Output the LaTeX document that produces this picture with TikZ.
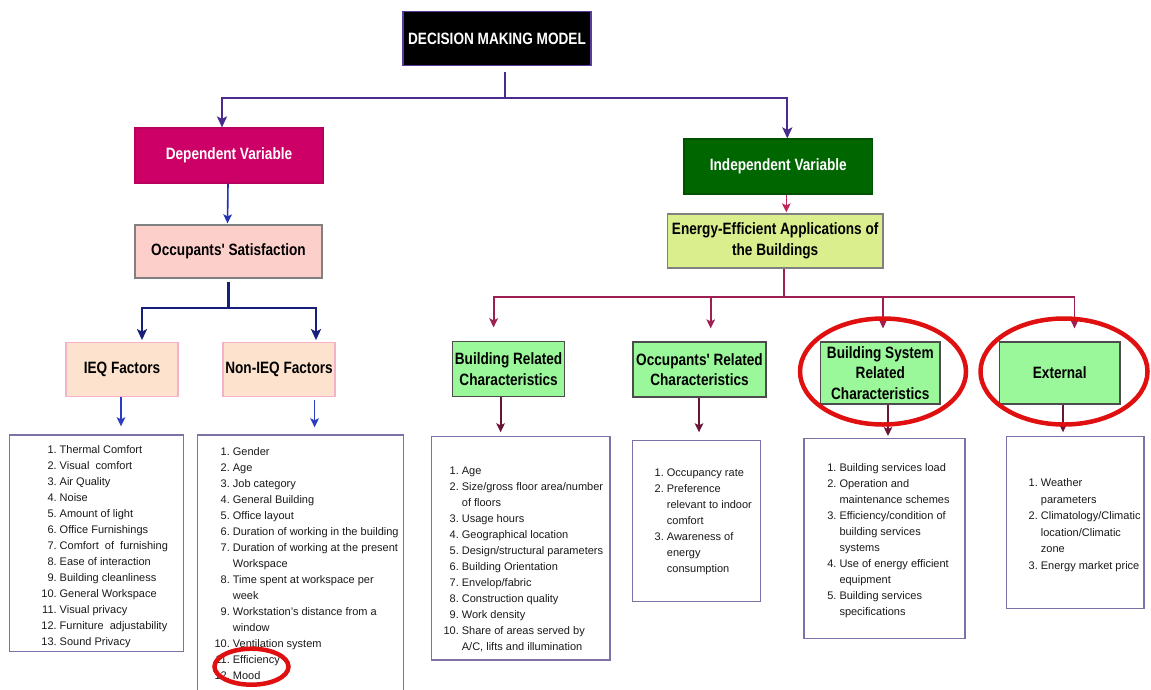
\documentclass[tikz,border=0pt]{standalone}
\usepackage{fontspec}
\setmainfont{Liberation Sans}
\newfontfamily\hfont{Liberation Sans}[FakeStretch=0.83]
\usetikzlibrary{arrows.meta,calc}

\definecolor{topline}{HTML}{4A2C8F}
\definecolor{depline}{HTML}{2432B8}
\definecolor{satline}{HTML}{16207A}
\definecolor{ieqline}{HTML}{2A3CC0}
\definecolor{indline}{HTML}{C0245C}
\definecolor{eneline}{HTML}{9E1F52}
\definecolor{charline}{HTML}{6A1438}
\definecolor{dmmedge}{HTML}{5A3C9E}
\definecolor{depfill}{HTML}{CC0066}
\definecolor{satfill}{HTML}{FDCFCB}
\definecolor{ieqfill}{HTML}{FDE2CD}
\definecolor{ieqedge}{HTML}{F5B0CA}
\definecolor{indfill}{HTML}{006600}
\definecolor{enefill}{HTML}{DAEE8E}
\definecolor{grnfill}{HTML}{9AF79A}
\definecolor{listedge}{HTML}{8070A8}
\definecolor{listtext}{HTML}{1A1A1A}
\definecolor{ring}{HTML}{E01010}

% numbered entry and its continuation line
\newcommand\litem[2]{\makebox[16pt][r]{#1}\hspace{3pt}#2}
\newcommand\lcont[1]{\hspace{19pt}#1}

\tikzset{
  hbox/.style={draw, line width=1.2pt, inner sep=0pt, align=center,
    font=\hfont\bfseries\fontsize{16.4}{20.5}\selectfont},
  lbox/.style={draw=listedge, line width=1.4pt, fill=white, inner sep=0pt},
  ltext/.style={anchor=north west, inner sep=0pt, text=listtext,
    font=\fontsize{11}{16}\selectfont},
  tipbig/.style={-{Stealth[length=11pt,width=10pt,inset=2.5pt]}},
  tip/.style={-{Stealth[length=9pt,width=8.5pt,inset=2pt]}},
  c1/.style={draw=topline, line width=2.2pt},
  c2/.style={draw=depline, line width=1.6pt},
  c3/.style={draw=satline, line width=2.4pt},
  c4/.style={draw=ieqline, line width=1.6pt},
  c5/.style={draw=indline, line width=1.6pt},
  c6/.style={draw=eneline, line width=1.8pt},
  c7/.style={draw=charline, line width=1.8pt},
  redring/.style={draw=ring, line width=4.5pt},
}

\begin{document}
\begin{tikzpicture}[x=1pt,y=-1pt]
\fill[white] (0,0) rectangle (1151,689);
\useasboundingbox (0,0) rectangle (1151,689);

% ---------- heading boxes ----------
\node[hbox, draw=dmmedge, fill=black, text=white, minimum width=188pt, minimum height=54pt]
  (dmm) at (497,38.7) {DECISION MAKING MODEL};
\node[hbox, draw=depfill!90!black, fill=depfill, text=white, minimum width=188pt, minimum height=55pt]
  (dep) at (229,155.5) {Dependent Variable};
\node[hbox, draw=gray, fill=satfill, minimum width=187pt, minimum height=53pt]
  (sat) at (228.5,251.5) {Occupants' Satisfaction};
\node[hbox, draw=ieqedge, fill=ieqfill, minimum width=112pt, minimum height=54pt]
  (ieq) at (122,369.7) {IEQ Factors};
\node[hbox, draw=ieqedge, fill=ieqfill, minimum width=112pt, minimum height=54pt]
  (nieq) at (279,369.7) {Non-IEQ Factors};

\node[hbox, draw=indfill!80!black, fill=indfill, text=white, minimum width=188.7pt, minimum height=55pt]
  (indep) at (778.3,166.5) {Independent Variable};
\node[hbox, draw=gray, fill=enefill, minimum width=215.5pt, minimum height=54pt]
  (energy) at (775.2,241) {Energy-Efficient Applications of\\the Buildings};
\node[hbox, draw=black!70, fill=grnfill, minimum width=112pt, minimum height=55pt]
  (brc) at (508.6,369.2) {Building Related\\Characteristics};
\node[hbox, draw=black!70, fill=grnfill, minimum width=133pt, minimum height=55pt]
  (orc) at (699.5,369.5) {Occupants' Related\\Characteristics};
\node[hbox, draw=black!70, fill=grnfill, minimum width=119.3pt, minimum height=62pt]
  (bsrc) at (880.3,373) {Building System\\Related\\Characteristics};
\node[hbox, draw=black!70, fill=grnfill, minimum width=120.5pt, minimum height=62pt]
  (ext) at (1059.7,373) {External};

% ---------- list frames ----------
\node[lbox, minimum width=174pt, minimum height=216.7pt] (l1) at (96.3,543.35) {};
\node[lbox, minimum width=206pt, minimum height=262pt] (l2) at (300.3,566) {};
\node[lbox, minimum width=178.3pt, minimum height=223.3pt] (l3) at (520.85,548.35) {};
\node[lbox, minimum width=128pt, minimum height=161pt] (l4) at (696.7,521.2) {};
\node[lbox, minimum width=161pt, minimum height=200pt] (l5) at (884.5,538.3) {};
\node[lbox, minimum width=137.3pt, minimum height=171.6pt] (l6) at (1075.35,522.5) {};

% ---------- list texts ----------
\node[ltext] (t1) at (40.5,442.1) {\begin{tabular}{@{}l@{}}
\litem{1.}{Thermal Comfort}\\
\litem{2.}{Visual\ \ comfort}\\
\litem{3.}{Air Quality}\\
\litem{4.}{Noise}\\
\litem{5.}{Amount of light}\\
\litem{6.}{Office Furnishings}\\
\litem{7.}{Comfort\ \ of\ \ furnishing}\\
\litem{8.}{Ease of interaction}\\
\litem{9.}{Building cleanliness}\\
\litem{10.}{General Workspace}\\
\litem{11.}{Visual privacy}\\
\litem{12.}{Furniture\ \ adjustability}\\
\litem{13.}{Sound Privacy}
\end{tabular}};

\node[ltext] (t2) at (213.7,444.5) {\begin{tabular}{@{}l@{}}
\litem{1.}{Gender}\\
\litem{2.}{Age}\\
\litem{3.}{Job category}\\
\litem{4.}{General Building}\\
\litem{5.}{Office layout}\\
\litem{6.}{Duration of working in the building}\\
\litem{7.}{Duration of working at the present}\\
\lcont{Workspace}\\
\litem{8.}{Time spent at workspace per}\\
\lcont{week}\\
\litem{9.}{Workstation's distance from a}\\
\lcont{window}\\
\litem{10.}{Ventilation system}\\
\litem{11.}{Efficiency}\\
\litem{12.}{Mood}
\end{tabular}};

\node[ltext] (t3) at (442.7,463.5) {\begin{tabular}{@{}l@{}}
\litem{1.}{Age}\\
\litem{2.}{Size/gross floor area/number}\\
\lcont{of floors}\\
\litem{3.}{Usage hours}\\
\litem{4.}{Geographical location}\\
\litem{5.}{Design/structural parameters}\\
\litem{6.}{Building Orientation}\\
\litem{7.}{Envelop/fabric}\\
\litem{8.}{Construction quality}\\
\litem{9.}{Work density}\\
\litem{10.}{Share of areas served by}\\
\lcont{A/C, lifts and illumination}
\end{tabular}};

\node[ltext] (t4) at (647.7,465.1) {\begin{tabular}{@{}l@{}}
\litem{1.}{Occupancy rate}\\
\litem{2.}{Preference}\\
\lcont{relevant to indoor}\\
\lcont{comfort}\\
\litem{3.}{Awareness of}\\
\lcont{energy}\\
\lcont{consumption}
\end{tabular}};

\node[ltext] (t5) at (820.3,460.1) {\begin{tabular}{@{}l@{}}
\litem{1.}{Building services load}\\
\litem{2.}{Operation and}\\
\lcont{maintenance schemes}\\
\litem{3.}{Efficiency/condition of}\\
\lcont{building services}\\
\lcont{systems}\\
\litem{4.}{Use of energy efficient}\\
\lcont{equipment}\\
\litem{5.}{Building services}\\
\lcont{specifications}
\end{tabular}};

\node[ltext, font=\fontsize{11}{16.5}\selectfont] (t6) at (1021.7,474.9) {\begin{tabular}{@{}l@{}}
\litem{1.}{Weather}\\
\lcont{parameters}\\
\litem{2.}{Climatology/Climatic}\\
\lcont{location/Climatic}\\
\lcont{zone}\\
\litem{3.}{Energy market price}
\end{tabular}};

% ---------- connectors: top level ----------
\coordinate (j0) at (505,98);
\coordinate (j0t) at ($(dmm.south -| j0)+(0,6)$);
\draw[c1] (j0t) -- (j0);
\draw[c1, tipbig] (j0) -| ([xshift=-7pt]dep.north);
\draw[c1, tipbig] (j0) -| ([xshift=9pt]indep.north);

% ---------- dependent side ----------
\draw[c2, tip, shorten >=1pt] ([xshift=-1pt]dep.south) -- ([xshift=-1pt]sat.north);
\coordinate (j1) at ($(sat.south)+(0,29.5)$);
\draw[c3] ($(sat.south)+(0,3)$) -- (j1);
\draw[c3, tipbig, shorten >=2pt] (j1) -| ([xshift=20pt]ieq.north);
\draw[c3, tipbig, shorten >=2pt] (j1) -| ([xshift=37pt]nieq.north);
\coordinate (a1) at ($(ieq.south)+(-1,0)$);
\draw[c4, tip, shorten >=8pt] (a1) -- (a1 |- l1.north);
\coordinate (a2) at ($(nieq.south)+(35.6,3)$);
\draw[c4, tip, shorten >=7pt] (a2) -- (a2 |- l2.north);

% ---------- independent side ----------
\coordinate (a5) at ($(indep.south)+(8,0)$);
\draw[c5, tip, shorten >=1pt] (a5) -- (a5 |- energy.north);
\coordinate (j2) at ($(energy.south)+(8.6,28.7)$);
\draw[c6] (energy.south -| j2) -- (j2);
\draw[c6, tip, shorten >=13.7pt] (j2) -| ([xshift=-15pt]brc.north);
\draw[c6, tip, shorten >=13pt] (j2) -| ([xshift=11.2pt]orc.north);
\draw[c6, tip, shorten >=13pt] (j2) -| ([xshift=2.7pt]bsrc.north);
\draw[c6, tip, shorten >=13pt] (j2) -| ([xshift=14.8pt]ext.north);

\coordinate (b3) at ($(brc.south)+(-8,0)$);
\draw[c7, tip, shorten >=3.7pt] (b3) -- (b3 |- l3.north);
\coordinate (b4) at ($(orc.south)+(-0.5,0)$);
\draw[c7, tip, shorten >=7.7pt] (b4) -- (b4 |- l4.north);
\coordinate (b5) at ($(bsrc.south)+(7.7,0)$);
\draw[c7, tip, shorten >=1.6pt] (b5) -- (b5 |- l5.north);
\coordinate (b6) at ($(ext.south)+(3.3,0)$);
\draw[c7, tip, shorten >=3.7pt] (b6) -- (b6 |- l6.north);

% ---------- highlight rings ----------
\draw[redring] (883,371.5) ellipse [x radius=83pt, y radius=53pt];
\draw[redring] (1064,371.5) ellipse [x radius=83.5pt, y radius=53pt];
\draw[redring] (251.5,666.7) ellipse [x radius=37pt, y radius=18pt];
\end{tikzpicture}
\end{document}
